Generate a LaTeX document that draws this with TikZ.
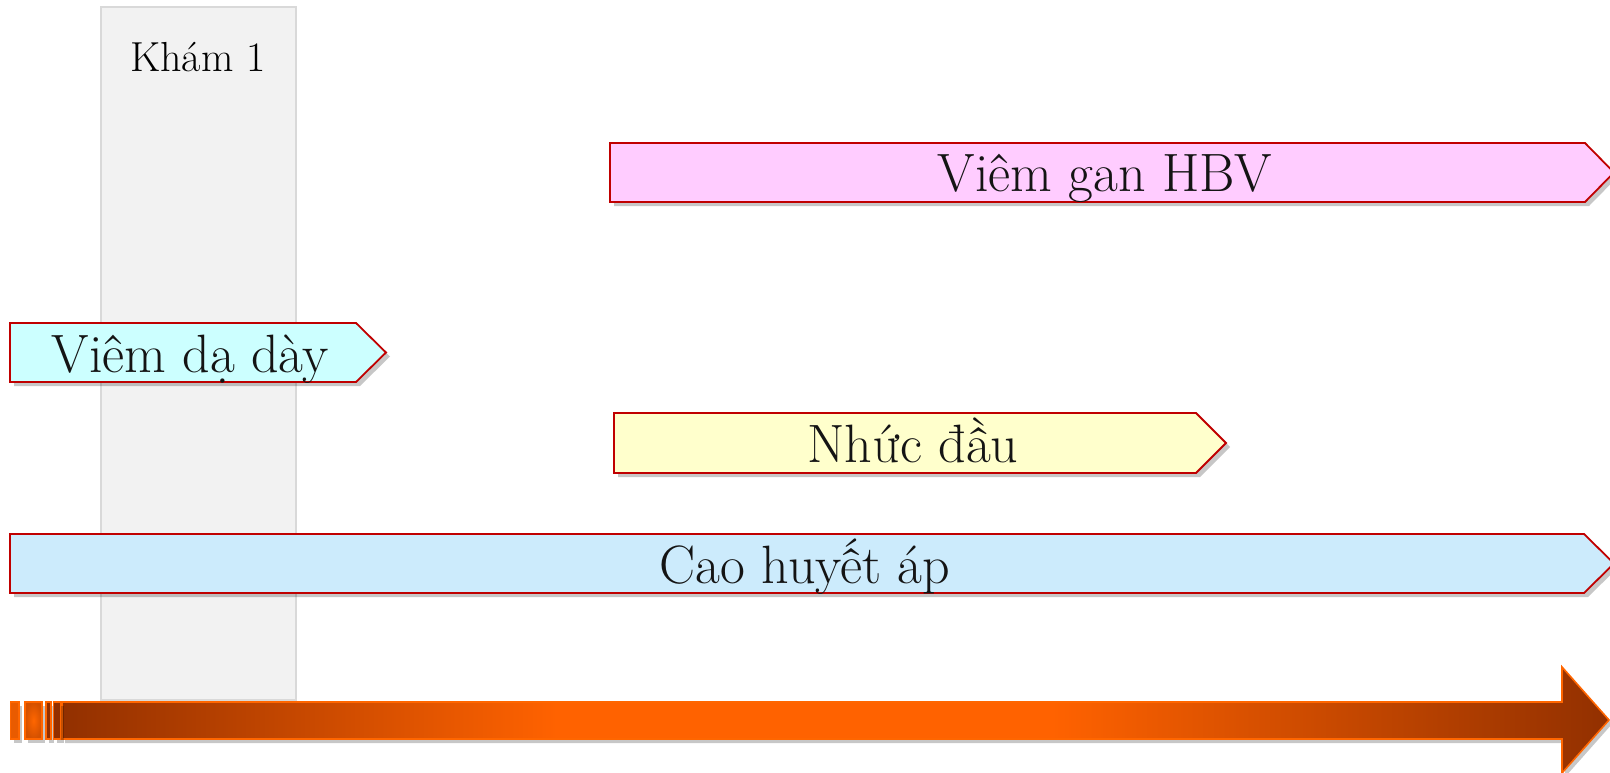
\documentclass[tikz,border=0pt]{standalone}
\usepackage{fontspec}
\usetikzlibrary{shadows}
\definecolor{redb}{HTML}{C00000}
\definecolor{pinkf}{HTML}{FFCCFF}
\definecolor{cyanf}{HTML}{CCFFFF}
\definecolor{yellf}{HTML}{FFFFCC}
\definecolor{bluef}{HTML}{CCEBFC}
\definecolor{colf}{HTML}{F2F2F2}
\definecolor{cold}{HTML}{D9D9D9}
\definecolor{orl}{HTML}{FF6600}
\definecolor{dkb}{HTML}{923000}
\definecolor{orm}{HTML}{FF6200}
\pgfdeclarehorizontalshading{timeline}{100bp}{color(0bp)=(dkb); color(25bp)=(dkb); color(41bp)=(orm); color(57bp)=(orm); color(75bp)=(dkb); color(100bp)=(dkb)}
\tikzset{
  tag/.style={draw=redb, line width=1.8pt, line join=miter,
    drop shadow={shadow xshift=4pt, shadow yshift=-4pt, opacity=0.22, fill=black}},
  lbl/.style={font=\fontsize{54}{64}\selectfont, inner sep=0pt, anchor=base, text=black!92},
  colbox/.style={fill=colf, draw=cold, line width=1.5pt},
  tlbar/.style={draw=orl, line width=1.6pt, line join=miter,
    drop shadow={shadow xshift=3pt, shadow yshift=-4pt, opacity=0.22, fill=black}},
}
\begin{document}
\begin{tikzpicture}[x=1pt,y=-1pt]
\useasboundingbox (0,0) rectangle (1610,773);
\fill[white] (0,0) rectangle (1610,773);
% column
\draw[colbox] (101,7) rectangle (296,700);
\node[font=\fontsize{42}{50}\selectfont, inner sep=0pt, anchor=base] (kham) at (198,72) {Khám 1};
% Viem gan HBV
\path[tag, fill=pinkf] (610,143) -- (1585,143) -- (1614,172.5) -- (1585,202) -- (610,202) -- cycle;
\node[lbl] (hbv) at (1105,192) {Viêm gan HBV};
% Viem da day
\path[tag, fill=cyanf] (10,323) -- (356,323) -- (386,352.5) -- (356,382) -- (10,382) -- cycle;
\node[lbl] (dd) at (190,372) {Viêm dạ dày};
% Nhuc dau
\path[tag, fill=yellf] (614,413) -- (1196,413) -- (1226,443) -- (1196,473) -- (614,473) -- cycle;
\node[lbl] (nd) at (913,462) {Nhức đầu};
% Cao huyet ap
\path[tag, fill=bluef] (10,534) -- (1584,534) -- (1614,563.5) -- (1584,593) -- (10,593) -- cycle;
\node[lbl] (cha) at (805,583) {Cao huyết áp};
% timeline
\path[tlbar, shading=timeline] (62,702) -- (1562,702) -- (1562,667) -- (1609,720) -- (1562,773) -- (1562,739) -- (62,739) -- cycle;
\path[tlbar, fill=orl!80!dkb] (10.5,702) rectangle (19,739);
\path[tlbar, inner color=orl, outer color=orl!60!dkb] (25,702) rectangle (42,739);
\path[tlbar, fill=dkb] (46,702) rectangle (51,739);
\path[tlbar, fill=dkb] (53.5,702) rectangle (60.5,739);
\end{tikzpicture}
\end{document}
